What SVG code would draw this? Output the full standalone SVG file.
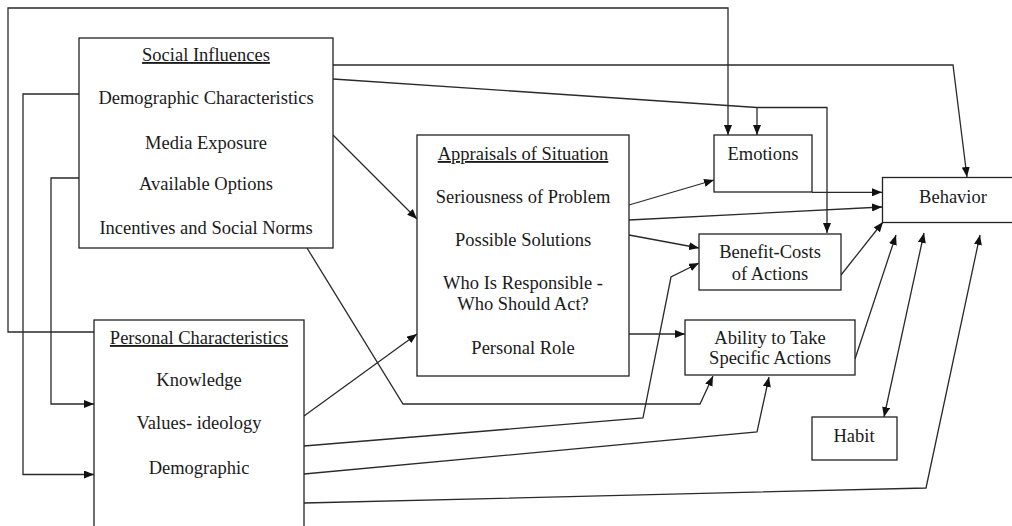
<svg xmlns="http://www.w3.org/2000/svg" width="1012" height="526" viewBox="0 0 1012 526">
<style>
.box{fill:#fff;stroke:#222;stroke-width:1.3}
.t{font-family:"Liberation Serif","Times New Roman",serif;font-size:18.5px;fill:#1a1a1a;text-anchor:middle}
.u{text-decoration:underline}
.c{fill:none;stroke:#2a2a2a;stroke-width:1.3}
</style>
<defs>
<marker id="ah" markerUnits="userSpaceOnUse" markerWidth="11" markerHeight="8" refX="10" refY="4" orient="auto-start-reverse">
<path d="M0,0 L10,4 L0,8 z" fill="#111"/>
</marker>
</defs>
<rect width="1012" height="526" fill="#fff"/>
<g id="connectors">
<polyline class="c" points="94,332 8,332 8,8 728,8 728,135" marker-end="url(#ah)"/>
<polyline class="c" points="333,65 953,65 967,177" marker-end="url(#ah)"/>
<polyline class="c" points="333,79 757,107.5 827,107.5 827,233" marker-end="url(#ah)"/>
<line class="c" x1="757" y1="107.5" x2="757" y2="135" marker-end="url(#ah)"/>
<polyline class="c" points="79,94 23,94 23,474.5 94,474.5" marker-end="url(#ah)"/>
<polyline class="c" points="79,178 51,178 51,404 94,404" marker-end="url(#ah)"/>
<line class="c" x1="333" y1="135" x2="417" y2="219" marker-end="url(#ah)"/>
<polyline class="c" points="307,248 403,404 700,404 713,376" marker-end="url(#ah)"/>
<line class="c" x1="304" y1="416" x2="417" y2="334" marker-end="url(#ah)"/>
<polyline class="c" points="304,446 643,418 671,277 699,263" marker-end="url(#ah)"/>
<polyline class="c" points="304,474 757,432 769,377" marker-end="url(#ah)"/>
<polyline class="c" points="304,503 926,488 980,235" marker-end="url(#ah)"/>
<line class="c" x1="629" y1="205" x2="714" y2="180" marker-end="url(#ah)"/>
<line class="c" x1="629" y1="220" x2="882" y2="207" marker-end="url(#ah)"/>
<line class="c" x1="629" y1="235" x2="699" y2="248" marker-end="url(#ah)"/>
<line class="c" x1="629" y1="334" x2="685" y2="334" marker-end="url(#ah)"/>
<line class="c" x1="812" y1="192.3" x2="882" y2="192.3" marker-end="url(#ah)"/>
<line class="c" x1="841" y1="275" x2="883" y2="222" marker-end="url(#ah)"/>
<line class="c" x1="855" y1="359" x2="896" y2="235" marker-end="url(#ah)"/>
<line class="c" x1="884" y1="417" x2="924" y2="233" marker-start="url(#ah)" marker-end="url(#ah)"/>
</g>
<g id="social">
<rect class="box" x="79" y="38" width="254" height="210"/>
<text class="t u" x="206" y="61">Social Influences</text>
<text class="t" x="206" y="104">Demographic Characteristics</text>
<text class="t" x="206" y="149">Media Exposure</text>
<text class="t" x="206" y="190">Available Options</text>
<text class="t" x="206" y="234">Incentives and Social Norms</text>
</g>
<g id="personal">
<rect class="box" x="94" y="320" width="210" height="220"/>
<text class="t u" x="199" y="344">Personal Characteristics</text>
<text class="t" x="199" y="386">Knowledge</text>
<text class="t" x="199" y="429">Values- ideology</text>
<text class="t" x="199" y="474">Demographic</text>
</g>
<g id="appraisals">
<rect class="box" x="417" y="135" width="212" height="241"/>
<text class="t u" x="523" y="160">Appraisals of Situation</text>
<text class="t" x="523" y="203">Seriousness of Problem</text>
<text class="t" x="523" y="246">Possible Solutions</text>
<text class="t" x="523" y="289">Who Is Responsible -</text>
<text class="t" x="523" y="310">Who Should Act?</text>
<text class="t" x="523" y="354">Personal Role</text>
</g>
<g id="emotions">
<rect class="box" x="714" y="135" width="98" height="57"/>
<text class="t" x="763" y="160">Emotions</text>
</g>
<g id="behavior">
<rect class="box" x="882.5" y="177.5" width="140" height="45"/>
<text class="t" x="953" y="203">Behavior</text>
</g>
<g id="benefit">
<rect class="box" x="699" y="234" width="142" height="56"/>
<text class="t" x="770" y="258">Benefit-Costs</text>
<text class="t" x="770" y="280">of Actions</text>
</g>
<g id="ability">
<rect class="box" x="685" y="320" width="170" height="55"/>
<text class="t" x="770" y="344">Ability to Take</text>
<text class="t" x="770" y="364">Specific Actions</text>
</g>
<g id="habit">
<rect class="box" x="812" y="417" width="85" height="43"/>
<text class="t" x="854" y="442">Habit</text>
</g>
</svg>
